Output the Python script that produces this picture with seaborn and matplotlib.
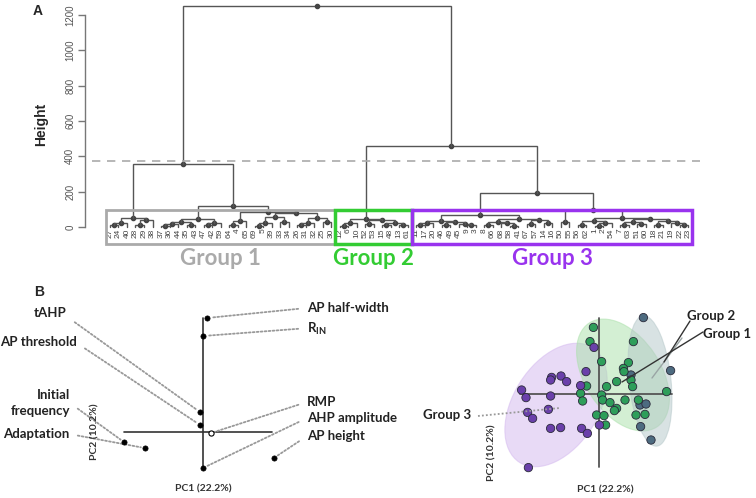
import pandas as pd
import seaborn as sns
import matplotlib.pyplot as plt
from matplotlib.patches import Ellipse, Rectangle

# ---- Panel A: hierarchical clustering, node = (height, left, right), leaf = cell number
GROUP1_TREE = (355,
               (50, (25, (10, 27, 24), 40), (40, (12, 28, 29), 38)),
               (120,
                (45, (30, (15, (8, 37, 36), 44), (12, 35, 43)), (25, (10, 47, 42), 59)),
                (85, (35, (12, 64, 4), 65),
                 (80, (55, (20, (8, 69, 5), 39), (30, 33, 34)),
                  (50, (25, (10, 26, 31), 32), (30, 25, 30))))))
GROUP2_TREE = (45, (20, (8, 12, 6), 10),
               (40, (15, 52, 53), (25, (10, 15, 48), (12, 13, 61))))
GROUP3_TREE = (190,
               (68,
                (35, (20, (10, 11, 17), 20), (28, (12, 46, 49), (18, 45, (10, 9, 3)))),
                (45, (30, (12, 8, 66), (20, 68, (8, 58, 41))), (38, (15, 67, 57), (20, 14, 16)))),
               (95, (30, 50, 55),
                (50, (35, (12, 56, 62), (20, (8, 1, 2), 54)),
                 (45, (30, (10, 7, 63), (15, 51, 60)),
                  (35, (12, 18, 21), (20, 19, (10, 22, 23)))))))
MERGE_23_HEIGHT = 460
ROOT_HEIGHT = 1250
CUT_HEIGHT = 375
GROUP_NAMES = ['Group 1', 'Group 2', 'Group 3']
GROUP_COLORS = ['#aaaaaa', '#33cc33', '#9933ee']

# ---- Panel B left: PCA loadings
VARIABLES = ['AP half-width', r'R$_{\mathrm{IN}}$', 'tAHP', 'AP threshold', 'RMP',
             'AHP amplitude', 'AP height', 'Initial\nfrequency', 'Adaptation']
PC1_LOAD = [0.027, 0.0, -0.02, -0.02, 0.053, 0.0, 0.473, -0.527, -0.387]
PC2_LOAD = [0.76, 0.64, 0.133, 0.047, -0.007, -0.24, -0.173, -0.067, -0.107]

# ---- Panel B right: PCA scores per group
G1_PC1 = [2.22, 3.58, 1.6, 2.05, 2.35, 2.08, 2.6]
G1_PC2 = [3.82, 1.17, 0.95, -0.55, -0.5, -1.63, -2.3]
G2_PC1 = [-0.28, -0.45, 1.72, 0.13, 1.47, 1.22, 1.25, 0.88, 1.6, 1.68, 0.38, -0.62, -0.92,
          -0.82, 0.13, 0.18, 0.55, 1.3, 1.97, 0.88, 0.77, -0.12, 0.25, 1.85, 2.3, 0.33, 3.38]
G2_PC2 = [3.33, 2.62, 2.62, 1.62, 1.57, 1.28, 1.12, 0.62, 0.7, 0.37, 0.37, 0.4, 0.03,
          -0.35, -0.05, -0.3, -0.43, -0.3, -0.3, -0.72, -0.83, -1.05, -1.08, -1.05, -1.02, -1.55, 0.12]
G3_PC1 = [-3.87, -3.65, -2.42, -2.37, -2.42, -1.9, -1.62, -0.65, -0.92, -0.25, -3.57, -3.32,
          -2.53, -2.42, -1.92, -0.87, -0.58, -3.53, 0.02]
G3_PC2 = [0.2, -0.18, -0.1, 0.83, 0.7, 0.9, 0.62, 1.12, 0.42, 2.33, -0.92, -1.22,
          -0.77, -1.72, -1.68, -1.72, -1.97, -3.68, -1.55]
# confidence ellipses: centre, axes, angle (deg)
ELLIPSE_CENTER = [(2.55, 0.65), (1.2, 0.95), (-2.15, -0.55)]
ELLIPSE_AXES = [(6.55, 2.1), (6.2, 3.8), (6.8, 4.25)]
ELLIPSE_ANGLE = [96, -57, 57.6]

DOT_COLORS = ['#4d6b80', '#2e9e5a', '#6a40aa']
FILL_COLORS = ['#b3c6c8', '#a8e0a8', '#d2b6ee']

sns.set_theme(style='white')
plt.rcParams['font.family'] = ['Lato', 'DejaVu Sans']
plt.rcParams['mathtext.fontset'] = 'custom'
plt.rcParams['mathtext.rm'] = 'Lato:bold'
plt.rcParams['mathtext.it'] = 'Lato:bold'
plt.rcParams['mathtext.bf'] = 'Lato:bold'

fig = plt.figure(figsize=(7.56, 4.98), dpi=100)
W, H = 756, 498


def px_axes(x0, y0, x1, y1):
    return fig.add_axes([x0 / W, 1 - y1 / H, (x1 - x0) / W, (y1 - y0) / H])


# ================= Panel A =================
ax = px_axes(85, 3, 700, 245)
LINE = '#555555'
leaves = []


def draw_node(node):
    if not isinstance(node, tuple):
        leaves.append(node)
        return float(len(leaves)), 0.0
    h, left, right = node
    xl, hl = draw_node(left)
    xr, hr = draw_node(right)
    ax.plot([xl, xl, xr, xr], [hl, h, h, hr], color=LINE, lw=1, solid_joinstyle='miter')
    ax.plot((xl + xr) / 2, h, 'o', ms=3, color='#444444')
    return (xl + xr) / 2, h


def count_leaves(node):
    if not isinstance(node, tuple):
        return 1
    return count_leaves(node[1]) + count_leaves(node[2])


root = (ROOT_HEIGHT, GROUP1_TREE, (MERGE_23_HEIGHT, GROUP2_TREE, GROUP3_TREE))
draw_node(root)

for i, lab in enumerate(leaves):
    ax.text(i + 1, -8, str(lab), rotation=90, ha='center', va='top', fontsize=6,
            color='#444444', family='Liberation Sans')

start = 0.5
for name, col, tree in zip(GROUP_NAMES, GROUP_COLORS, [GROUP1_TREE, GROUP2_TREE, GROUP3_TREE]):
    n = count_leaves(tree)
    ax.add_patch(Rectangle((start, -96), n, 193, fill=False, ec=col,
                           lw=2 if col == '#aaaaaa' else 2.5, clip_on=False, zorder=3))
    ax.text(start + n / 2, -178, name, ha='center', va='center', fontsize=16,
            fontweight='bold', color=col)
    start += n

ax.axhline(CUT_HEIGHT, xmin=0.011, xmax=1, color='#aaaaaa', lw=1.2, ls=(0, (5, 4)))
ax.set_xlim(-1.94, 70.4)
ax.set_ylim(-102, 1268)
ax.set_xticks([])
ax.set_yticks(range(0, 1201, 200))
ax.tick_params(axis='y', left=True, length=5, width=1, color='#777777', labelcolor='#555555',
               labelsize=7, pad=2)
for t in ax.get_yticklabels():
    t.set_rotation(90)
    t.set_va('center')
    t.set_family('Liberation Sans')
for s in ['top', 'right', 'bottom']:
    ax.spines[s].set_visible(False)
ax.spines['left'].set_bounds(0, 1200)
ax.spines['left'].set_color('#777777')
ax.spines['left'].set_linewidth(1)
ax.set_ylabel('Height', fontsize=10, fontweight='bold', family='Liberation Sans', labelpad=12)
ax.patch.set_alpha(0)

fig.text(38 / W, 1 - 11 / H, 'A', fontsize=10, fontweight='bold', family='Liberation Sans',
         ha='center', va='center')
fig.text(39 / W, 1 - 292 / H, 'B', fontsize=10, fontweight='bold', family='Liberation Sans',
         ha='center', va='center')

# ================= Panel B left: loadings =================
bx = px_axes(0, 285, 360, 498)
bx.set_xlim(-203 / 150, 157 / 150)
bx.set_ylim(-66 / 150, 147 / 150)
bx.axis('off')
bx.plot([-0.53, 0.46], [0, 0], color='#333333', lw=1.2)
bx.plot([0, 0], [-0.247, 0.76], color='#333333', lw=1.2)

load = pd.DataFrame({'var': VARIABLES, 'PC1': PC1_LOAD, 'PC2': PC2_LOAD})
solid = load[load['var'] != 'RMP']
hollow = load[load['var'] == 'RMP']
sns.scatterplot(data=solid, x='PC1', y='PC2', color='black', s=14, edgecolor='black',
                linewidth=0.5, ax=bx, zorder=4)
sns.scatterplot(data=hollow, x='PC1', y='PC2', color='white', s=14, edgecolor='black',
                linewidth=0.8, ax=bx, zorder=4)

# label anchors (axes data units) and where the leader leaves the text
label_pos = {
    'AP half-width': ((0.693, 0.827), 'left', (0, 0.5)),
    r'R$_{\mathrm{IN}}$': ((0.693, 0.687), 'left', (0, 0.55)),
    'tAHP': ((-0.907, 0.793), 'right', (1, 0.2)),
    'AP threshold': ((-0.84, 0.6), 'right', (1, 0.4)),
    'RMP': ((0.693, 0.2), 'left', (0, 0.5)),
    'AHP amplitude': ((0.693, 0.093), 'left', (0, 0.5)),
    'AP height': ((0.693, -0.027), 'left', (0, 0.5)),
    'Initial\nfrequency': ((-0.887, 0.193), 'right', (1, 0.5)),
    'Adaptation': ((-0.893, -0.013), 'right', (1, 0.5)),
}
for name, x, y in zip(VARIABLES, PC1_LOAD, PC2_LOAD):
    (tx, ty), ha, rel = label_pos[name]
    bx.annotate(name, xy=(x, y), xytext=(tx, ty), ha=ha, va='center', fontsize=9.5,
                fontweight='bold', color='#222222', linespacing=1.35,
                arrowprops=dict(arrowstyle='-', color='#999999', lw=1.3, ls=(0, (1, 1.2)),
                                shrinkA=4, shrinkB=3, relpos=rel))
bx.text(-0.72, 0.0, 'PC2 (10.2%)', rotation=90, ha='center', va='center', fontsize=7.5,
        fontweight='bold', color='#333333')
bx.text(0.0, -0.38, 'PC1 (22.2%)', ha='center', va='center', fontsize=7.5,
        fontweight='bold', color='#333333')

# ================= Panel B right: scores =================
cx = px_axes(420, 290, 756, 498)
cx.set_xlim(-8.95, 7.85)
cx.set_ylim(-5.2, 5.2)
cx.axis('off')

for c, (w, h), a, col in zip(ELLIPSE_CENTER[::-1], ELLIPSE_AXES[::-1], ELLIPSE_ANGLE[::-1],
                             FILL_COLORS[::-1]):
    cx.add_patch(Ellipse(c, w, h, angle=a, fc=col, ec=col, alpha=0.5, lw=0.8, zorder=1))

cx.plot([-3.95, 3.65], [0, 0], color='#555555', lw=1.3, zorder=2)
cx.plot([0, 0], [-3.65, 3.8], color='#555555', lw=1.3, zorder=2)

scores = pd.DataFrame({
    'PC1': G1_PC1 + G2_PC1 + G3_PC1,
    'PC2': G1_PC2 + G2_PC2 + G3_PC2,
    'group': ['Group 1'] * len(G1_PC1) + ['Group 2'] * len(G2_PC1) + ['Group 3'] * len(G3_PC1),
})
sns.scatterplot(data=scores, x='PC1', y='PC2', hue='group', palette=dict(zip(GROUP_NAMES, DOT_COLORS)),
                s=36, edgecolor='#2a2a3a', linewidth=0.6, legend=False, ax=cx, zorder=4)

cx.plot([4.15, 2.65], [2.8, 0.8], color='#9aa5a5', lw=1, zorder=5)
cx.plot([4.55, 3.25], [3.65, 1.6], color='#333333', lw=1, zorder=5)
cx.plot([5.2, 1.15], [3.1, 0.6], color='#333333', lw=1, zorder=5)
cx.plot([-6.05, -1.95], [-1.1, -0.7], color='#999999', lw=1.3, ls=(0, (1, 1.2)), zorder=5)
cx.text(4.4, 3.9, 'Group 2', ha='left', va='center', fontsize=9.5, fontweight='bold', color='#222222')
cx.text(5.2, 3.0, 'Group 1', ha='left', va='center', fontsize=9.5, fontweight='bold', color='#222222')
cx.text(-6.4, -1.05, 'Group 3', ha='right', va='center', fontsize=9.5, fontweight='bold', color='#222222')
cx.text(-5.35, -2.95, 'PC2 (10.2%)', rotation=90, ha='center', va='center', fontsize=7.5,
        fontweight='bold', color='#333333')
cx.text(0.3, -4.8, 'PC1 (22.2%)', ha='center', va='center', fontsize=7.5,
        fontweight='bold', color='#333333')

fig.savefig('out.png', dpi=100)
